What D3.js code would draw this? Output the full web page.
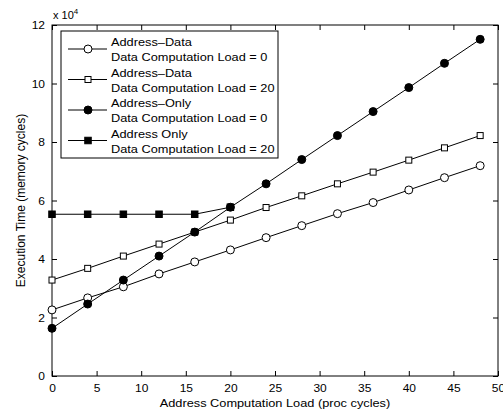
<!DOCTYPE html>
<html>
<head>
<meta charset="utf-8">
<script src="https://cdn.jsdelivr.net/npm/d3@7"></script>
<style>
  body { margin: 0; background: #fff; }
  text { font-family: "Liberation Sans", Arial, sans-serif; }
</style>
</head>
<body>
<div id="plot"></div>
<script>
// x values (address computation load)
var loads = [0, 4, 8, 12, 16, 20, 24, 28, 32, 36, 40, 44, 48];

// series values, in units of 10^4 memory cycles
var addrDataDcl0 = [2.26, 2.67, 3.05, 3.49, 3.9, 4.31, 4.73, 5.14, 5.55, 5.93, 6.36, 6.78, 7.19];
var addrDataDcl20 = [3.28, 3.68, 4.10, 4.51, 4.92, 5.33, 5.76, 6.16, 6.57, 6.97, 7.38, 7.80, 8.22];
var addrOnlyDcl0 = [1.63, 2.46, 3.28, 4.10, 4.92, 5.77, 6.57, 7.40, 8.22, 9.04, 9.86, 10.69, 11.51];
var addrOnlyDcl20 = [5.53, 5.53, 5.53, 5.53, 5.53, 5.77];

var xTicks = [0, 5, 10, 15, 20, 25, 30, 35, 40, 45, 50];
var yTicks = [0, 2, 4, 6, 8, 10, 12];

var series = [
  {l1: "Address\u2013Data", l2: "Data Computation Load = 0", vals: addrDataDcl0, marker: "circle", fill: "#fff"},
  {l1: "Address\u2013Data", l2: "Data Computation Load = 20", vals: addrDataDcl20, marker: "square", fill: "#fff"},
  {l1: "Address\u2013Only", l2: "Data Computation Load = 0", vals: addrOnlyDcl0, marker: "circle", fill: "#000"},
  {l1: "Address Only", l2: "Data Computation Load = 20", vals: addrOnlyDcl20, marker: "square", fill: "#000"}
];

var W = 503, H = 413;
var margin = {top: 25, right: 5, bottom: 37, left: 52},
    width = W - margin.left - margin.right,
    height = H - margin.top - margin.bottom;

var svg = d3.select("div#plot")
  .append("svg")
    .attr("width", W)
    .attr("height", H);

var g = svg.append("g")
    .attr("transform", "translate(" + margin.left + "," + margin.top + ")");

var x = d3.scaleLinear().domain([0, 50]).range([0, width]);
var y = d3.scaleLinear().domain([0, 12]).range([height, 0]);

// the original text is a bit wider than normal Helvetica, so stretch glyphs
function stretch(sel, k) {
  sel.each(function() {
    var len = this.getComputedTextLength();
    d3.select(this).attr("textLength", len * k).attr("lengthAdjust", "spacingAndGlyphs");
  });
}

// axes with inward ticks on all four sides
function styleAxis(sel) {
  sel.select(".domain").remove();
  sel.selectAll("line").attr("stroke", "#000");
  sel.selectAll("text").attr("fill", "#000").style("font-size", "11px").call(stretch, 1.09);
}

g.append("g")
  .attr("transform", "translate(0," + height + ")")
  .call(d3.axisBottom(x).tickValues(xTicks).tickSizeInner(-5).tickSizeOuter(0).tickPadding(8))
  .call(styleAxis);

g.append("g")
  .call(d3.axisTop(x).tickValues(xTicks).tickSizeInner(-5).tickSizeOuter(0).tickFormat(""))
  .call(styleAxis);

g.append("g")
  .call(d3.axisLeft(y).tickValues(yTicks).tickSizeInner(-5).tickSizeOuter(0).tickPadding(7))
  .call(styleAxis);

g.append("g")
  .attr("transform", "translate(" + width + ",0)")
  .call(d3.axisRight(y).tickValues(yTicks).tickSizeInner(-5).tickSizeOuter(0).tickFormat(""))
  .call(styleAxis);

g.append("rect")
  .attr("width", width)
  .attr("height", height)
  .attr("fill", "none")
  .attr("stroke", "#000")
  .attr("stroke-width", 1);

// exponent label
g.append("text")
  .attr("x", 1)
  .attr("y", -6)
  .style("font-size", "11px")
  .text("x 10")
  .append("tspan")
    .attr("dy", -5)
    .style("font-size", "8px")
    .text("4");

var line = d3.line()
  .x(function(d, i) { return x(loads[i]); })
  .y(function(d) { return y(d); });

function drawMarker(sel, type, fill) {
  if (type === "circle") {
    sel.append("circle").attr("r", 4).attr("fill", fill).attr("stroke", "#000").attr("stroke-width", 1);
  } else {
    var s = fill === "#000" ? 6.5 : 6;
    sel.append("rect").attr("x", -s / 2).attr("y", -s / 2).attr("width", s).attr("height", s)
      .attr("fill", fill).attr("stroke", "#000").attr("stroke-width", 1);
  }
}

// draw order: filled square series first so filled circles sit on top
[0, 1, 3, 2].forEach(function(k) {
  var s = series[k];
  g.append("path")
    .datum(s.vals)
    .attr("d", line)
    .attr("fill", "none")
    .attr("stroke", "#000")
    .attr("stroke-width", 1);
  g.selectAll(".m" + k)
    .data(s.vals)
    .enter().append("g")
    .attr("class", "m" + k)
    .attr("transform", function(d, i) { return "translate(" + x(loads[i]) + "," + y(d) + ")"; })
    .each(function() { drawMarker(d3.select(this), s.marker, s.fill); });
});

// legend
var lg = svg.append("g").attr("transform", "translate(61,31)");
lg.append("rect")
  .attr("width", 217)
  .attr("height", 127)
  .attr("fill", "#fff")
  .attr("stroke", "#000")
  .attr("stroke-width", 1);

series.forEach(function(s, i) {
  var cy = 18 + i * 30.5;
  lg.append("line")
    .attr("x1", 7).attr("x2", 46)
    .attr("y1", cy).attr("y2", cy)
    .attr("stroke", "#000");
  var m = lg.append("g").attr("transform", "translate(27," + cy + ")");
  drawMarker(m, s.marker, s.fill);
  lg.append("text")
    .attr("x", 50).attr("y", cy - 3)
    .style("font-size", "11px")
    .text(s.l1)
    .call(stretch, 1.16);
  lg.append("text")
    .attr("x", 50).attr("y", cy + 12)
    .style("font-size", "11px")
    .text(s.l2)
    .call(stretch, 1.16);
});

// axis titles
svg.append("text")
  .attr("x", margin.left + width / 2)
  .attr("y", 407)
  .attr("text-anchor", "middle")
  .style("font-size", "11px")
  .text("Address Computation Load (proc cycles)")
  .call(stretch, 1.16);

svg.append("text")
  .attr("transform", "translate(25," + (margin.top + height / 2) + ") rotate(-90)")
  .attr("text-anchor", "middle")
  .style("font-size", "12px")
  .text("Execution Time (memory cycles)");
</script>
</body>
</html>
